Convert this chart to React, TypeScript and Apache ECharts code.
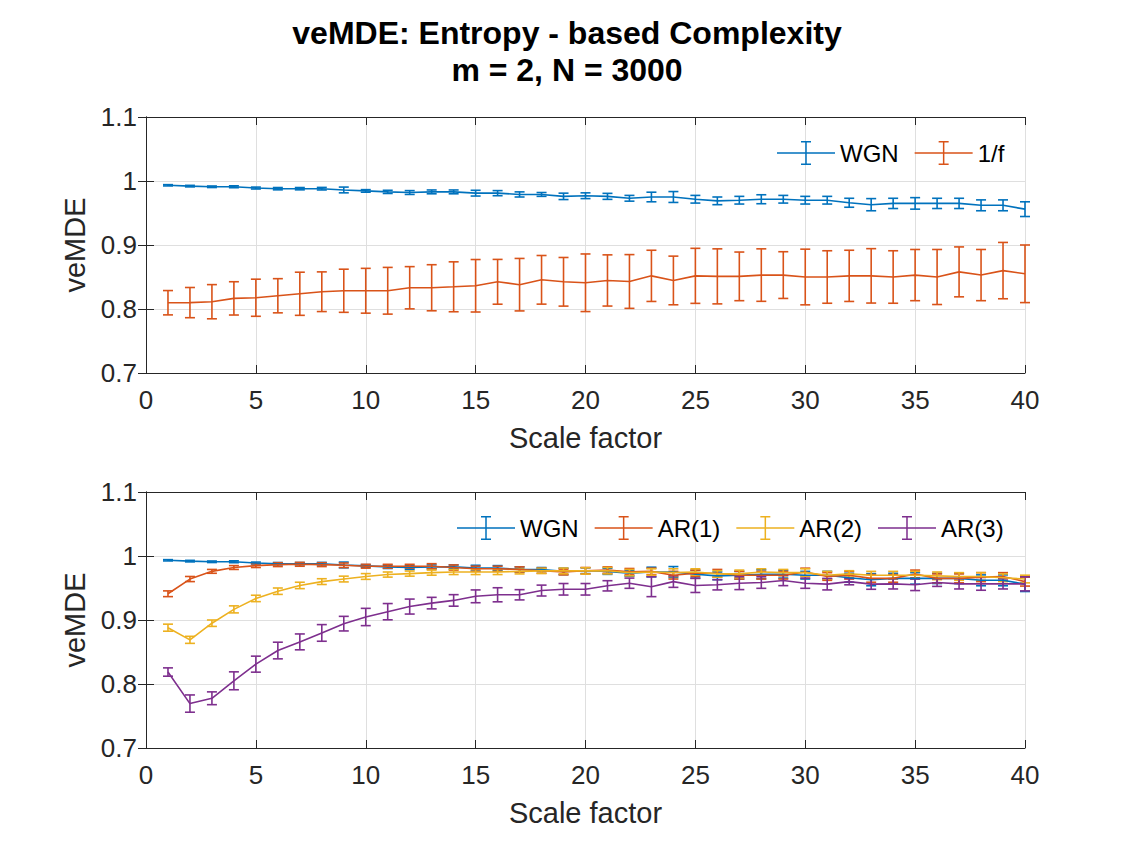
import React, { useEffect, useRef } from "react";
import * as echarts from "echarts";

const scales = Array.from({ length: 40 }, (_, i) => i + 1);

const wgnMean = [0.9933,0.992,0.991,0.991,0.989,0.988,0.988,0.988,0.986,0.9845,0.983,0.982,0.983,0.983,0.981,0.981,0.979,0.979,0.976,0.977,0.976,0.973,0.975,0.975,0.9715,0.969,0.970,0.9715,0.9715,0.970,0.970,0.966,0.963,0.965,0.965,0.965,0.965,0.962,0.962,0.956];
const wgnErr = [0.001,0.0012,0.0012,0.0015,0.0015,0.0018,0.0018,0.002,0.0045,0.002,0.0025,0.003,0.003,0.003,0.0045,0.004,0.004,0.003,0.005,0.0045,0.0047,0.0045,0.0075,0.0085,0.006,0.006,0.006,0.007,0.006,0.006,0.006,0.007,0.0095,0.008,0.009,0.008,0.008,0.0085,0.0085,0.0115];

const pinkMean = [0.8098,0.81,0.8114,0.8166,0.8176,0.8207,0.8238,0.827,0.8285,0.8285,0.8285,0.8332,0.8332,0.8347,0.8363,0.8425,0.838,0.8456,0.8425,0.841,0.8446,0.843,0.8518,0.8446,0.8518,0.851,0.851,0.853,0.853,0.850,0.850,0.8518,0.8518,0.850,0.853,0.850,0.858,0.853,0.860,0.855];
const pinkErr = [0.019,0.0236,0.0267,0.026,0.029,0.0267,0.0337,0.031,0.0337,0.035,0.0365,0.033,0.036,0.039,0.041,0.035,0.041,0.038,0.038,0.045,0.040,0.042,0.040,0.038,0.043,0.043,0.038,0.041,0.0365,0.0435,0.041,0.040,0.0425,0.041,0.040,0.043,0.039,0.040,0.044,0.045];

const ar1Mean = [0.941,0.964,0.976,0.982,0.985,0.9865,0.987,0.9865,0.9855,0.984,0.984,0.984,0.984,0.982,0.980,0.980,0.979,0.977,0.975,0.977,0.978,0.9755,0.976,0.970,0.973,0.973,0.970,0.970,0.970,0.975,0.968,0.970,0.965,0.965,0.972,0.965,0.965,0.967,0.968,0.960];
const ar1Err = [0.0045,0.004,0.003,0.003,0.003,0.003,0.003,0.003,0.0035,0.003,0.003,0.003,0.004,0.004,0.004,0.004,0.004,0.004,0.0045,0.005,0.005,0.005,0.005,0.006,0.005,0.006,0.006,0.006,0.006,0.006,0.006,0.006,0.006,0.006,0.006,0.007,0.007,0.007,0.006,0.007];

const ar2Mean = [0.888,0.869,0.895,0.9166,0.9337,0.945,0.954,0.960,0.964,0.968,0.971,0.9725,0.974,0.975,0.975,0.975,0.976,0.9767,0.9767,0.9767,0.977,0.974,0.975,0.974,0.975,0.972,0.972,0.975,0.974,0.974,0.970,0.972,0.970,0.970,0.970,0.969,0.968,0.968,0.966,0.964];
const ar2Err = [0.0055,0.0055,0.005,0.0055,0.005,0.005,0.005,0.0045,0.0045,0.0045,0.004,0.004,0.004,0.004,0.004,0.004,0.004,0.004,0.0045,0.005,0.005,0.005,0.005,0.006,0.005,0.005,0.006,0.005,0.005,0.006,0.006,0.005,0.006,0.006,0.006,0.006,0.006,0.006,0.006,0.006];

const ar3Mean = [0.8187,0.7694,0.7777,0.805,0.831,0.8523,0.8658,0.8798,0.8943,0.9047,0.913,0.921,0.9264,0.9306,0.937,0.9394,0.9394,0.946,0.948,0.948,0.9534,0.9575,0.952,0.960,0.954,0.955,0.9575,0.9585,0.9617,0.9575,0.956,0.960,0.956,0.9565,0.955,0.9585,0.9565,0.9565,0.9565,0.9565];
const ar3Err = [0.0065,0.0135,0.01,0.014,0.0125,0.013,0.0124,0.013,0.0114,0.0135,0.0127,0.0117,0.009,0.009,0.010,0.011,0.008,0.0085,0.009,0.009,0.008,0.008,0.0155,0.009,0.011,0.008,0.01,0.009,0.008,0.008,0.009,0.005,0.008,0.008,0.009,0.006,0.008,0.01,0.008,0.011];

const xTicks = { min: 0, max: 40, interval: 5 };
const yTicks = { min: 0.7, max: 1.1, interval: 0.1 };

const C_BLUE = "#0072BD";
const C_ORANGE = "#D95319";
const C_YELLOW = "#EDB120";
const C_PURPLE = "#7E2F8E";
const AX = "#262626";
const FONT = "Liberation Sans, Arial, Helvetica, sans-serif";

const legendIcon =
  "path://M0,11.25H58V12.75H0Z M28.25,0H29.75V24H28.25Z M24,0H34V1.5H24Z M24,22.5H34V24H24Z";

function errSeries(name: string, mean: number[], err: number[], color: string, gi: number) {
  const data = scales.map((x, i) => [x, mean[i] - err[i], mean[i] + err[i]]);
  return {
    type: "custom",
    name: name + " err",
    xAxisIndex: gi * 2,
    yAxisIndex: gi * 2,
    data,
    encode: { x: 0, y: [1, 2] },
    silent: true,
    renderItem: (params: any, api: any) => {
      const x = api.value(0);
      const lo = api.coord([x, api.value(1)]);
      const hi = api.coord([x, api.value(2)]);
      const w = 5;
      const st = { stroke: color, lineWidth: 1.6, fill: "none" };
      return {
        type: "group",
        children: [
          { type: "line", shape: { x1: lo[0], y1: lo[1], x2: hi[0], y2: hi[1] }, style: st },
          { type: "line", shape: { x1: lo[0] - w, y1: lo[1], x2: lo[0] + w, y2: lo[1] }, style: st },
          { type: "line", shape: { x1: hi[0] - w, y1: hi[1], x2: hi[0] + w, y2: hi[1] }, style: st },
        ],
      };
    },
  };
}

function lineSeries(name: string, mean: number[], color: string, gi: number) {
  return {
    type: "line",
    name,
    xAxisIndex: gi * 2,
    yAxisIndex: gi * 2,
    data: scales.map((x, i) => [x, mean[i]]),
    showSymbol: false,
    symbol: "none",
    color,
    lineStyle: { color, width: 1.6 },
    silent: true,
  };
}

const fmtY = (v: number) => String(Math.round(v * 10) / 10);

function axesFor(gi: number) {
  const xs = [
    {
      type: "value",
      gridIndex: gi,
      ...xTicks,
      position: "bottom",
      name: "Scale factor",
      nameLocation: "middle",
      nameGap: 50,
      nameTextStyle: { color: AX, fontSize: 29, fontFamily: FONT },
      axisLine: { show: true, lineStyle: { color: AX, width: 1 } },
      axisTick: { show: true, inside: true, length: 8, lineStyle: { color: AX } },
      axisLabel: { color: AX, fontSize: 26, fontFamily: FONT, margin: 14 },
      splitLine: { show: true, lineStyle: { color: "#dfdfdf", width: 1 } },
    },
    {
      type: "value",
      gridIndex: gi,
      ...xTicks,
      position: "top",
      axisLine: { show: true, lineStyle: { color: AX, width: 1 } },
      axisTick: { show: true, inside: true, length: 8, lineStyle: { color: AX } },
      axisLabel: { show: false },
      splitLine: { show: false },
    },
  ];
  const ys = [
    {
      type: "value",
      gridIndex: gi,
      ...yTicks,
      position: "left",
      name: "veMDE",
      nameLocation: "middle",
      nameGap: 51,
      nameTextStyle: { color: AX, fontSize: 29, fontFamily: FONT },
      axisLine: { show: true, lineStyle: { color: AX, width: 1 } },
      axisTick: { show: true, inside: true, length: 8, lineStyle: { color: AX } },
      axisLabel: { color: AX, fontSize: 26, fontFamily: FONT, margin: 9, formatter: fmtY },
      splitLine: { show: true, lineStyle: { color: "#dfdfdf", width: 1 } },
    },
    {
      type: "value",
      gridIndex: gi,
      ...yTicks,
      position: "right",
      axisLine: { show: true, lineStyle: { color: AX, width: 1 } },
      axisTick: { show: true, inside: true, length: 8, lineStyle: { color: AX } },
      axisLabel: { show: false },
      splitLine: { show: false },
    },
  ];
  return { xs, ys };
}

export default function App() {
  const ref = useRef<HTMLDivElement>(null);
  useEffect(() => {
    document.body.style.margin = "0";
    if (!ref.current) return;
    const chart = echarts.init(ref.current, undefined, { renderer: "svg" });
    const a0 = axesFor(0);
    const a1 = axesFor(1);
    const legendText = { color: "#000", fontSize: 24, fontFamily: FONT };
    chart.setOption({
      animation: false,
      backgroundColor: "#fff",
      title: {
        text: "veMDE: Entropy - based Complexity\nm = 2, N = 3000",
        left: "center",
        top: 9,
        textStyle: { fontSize: 32, fontWeight: "bold", color: "#000", fontFamily: FONT, lineHeight: 37 },
      },
      grid: [
        { left: 146, right: 109, top: 117, height: 256, containLabel: false },
        { left: 146, right: 109, top: 492, height: 256, containLabel: false },
      ],
      xAxis: [...a0.xs, ...a1.xs],
      yAxis: [...a0.ys, ...a1.ys],
      legend: [
        {
          data: ["WGN", "1/f"],
          left: 777,
          top: 141,
          padding: 0,
          itemGap: 16,
          itemWidth: 58,
          itemHeight: 24,
          icon: legendIcon,
          textStyle: legendText,
          selectedMode: false,
        },
        {
          data: ["WGN", "AR(1)", "AR(2)", "AR(3)"],
          left: 457,
          top: 516,
          padding: 0,
          itemGap: 16,
          itemWidth: 58,
          itemHeight: 24,
          icon: legendIcon,
          textStyle: legendText,
          selectedMode: false,
        },
      ],
      series: [
        lineSeries("WGN", wgnMean, C_BLUE, 0),
        errSeries("WGN", wgnMean, wgnErr, C_BLUE, 0),
        lineSeries("1/f", pinkMean, C_ORANGE, 0),
        errSeries("1/f", pinkMean, pinkErr, C_ORANGE, 0),
        lineSeries("WGN", wgnMean, C_BLUE, 1),
        errSeries("WGN2", wgnMean, wgnErr, C_BLUE, 1),
        lineSeries("AR(1)", ar1Mean, C_ORANGE, 1),
        errSeries("AR(1)", ar1Mean, ar1Err, C_ORANGE, 1),
        lineSeries("AR(2)", ar2Mean, C_YELLOW, 1),
        errSeries("AR(2)", ar2Mean, ar2Err, C_YELLOW, 1),
        lineSeries("AR(3)", ar3Mean, C_PURPLE, 1),
        errSeries("AR(3)", ar3Mean, ar3Err, C_PURPLE, 1),
      ],
    });
    return () => chart.dispose();
  }, []);
  return <div ref={ref} style={{ width: 1134, height: 850 }} />;
}
